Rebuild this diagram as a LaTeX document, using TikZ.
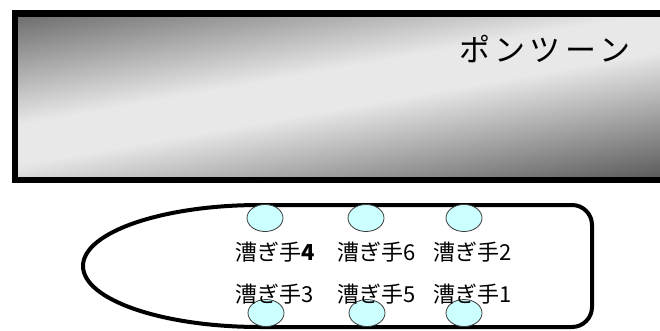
\documentclass[tikz,border=0pt]{standalone}
\usepackage{fontspec}
\usetikzlibrary{shapes.geometric}
\newfontfamily\jp{Noto Sans CJK JP}
\definecolor{pdark}{HTML}{5A5A5A}
\definecolor{plight}{HTML}{E8E8E8}
\definecolor{oarfill}{HTML}{CCFFFF}
\definecolor{oarline}{HTML}{3A3A3A}
\pgfdeclareverticalshading{pontshade}{100bp}{color(0bp)=(pdark); color(39.6bp)=(pdark); color(48.6bp)=(plight); color(51.4bp)=(plight); color(60.4bp)=(pdark); color(100bp)=(pdark)}
\tikzset{
  lbl/.style={font=\jp\fontsize{22}{22}\selectfont, inner sep=0pt, anchor=west},
  oar/.style={ellipse, draw=oarline, fill=oarfill, line width=0.8pt, minimum width=36pt, minimum height=27pt, inner sep=0pt},
  hull/.style={draw=black, line width=4pt, fill=white},
}
\begin{document}
\begin{tikzpicture}[x=1pt,y=-1pt]
\clip (0,0) rectangle (660,331);
\fill[white] (0,0) rectangle (660,331);
% pontoon
\begin{scope}
\clip (15,13) rectangle (690,180);
\shade[shading=pontshade, shading angle=10] (-10,-262) rectangle (690,438);
\end{scope}
\draw[line width=6.5pt] (15,13.5) rectangle (690,180);
\node[font=\jp\fontsize{31}{31}\selectfont\addfontfeature{LetterSpace=14}, inner sep=0pt, anchor=west] (pont) at (459,49) {ポンツーン};
% boat
\draw[hull] (260,205) .. controls (162.2,205) and (83,232.3) .. (83,266)
  .. controls (83,299.7) and (162.2,327) .. (260,327)
  [rounded corners=20pt] -- (592,327) -- (592,205) -- (420,205) [sharp corners] -- cycle;
% oars
\node[oar] (o4) at (265,218) {};
\node[oar] (o6) at (366,218) {};
\node[oar] (o2) at (464,218) {};
\node[oar] (o3) at (266,313) {};
\node[oar] (o5) at (367,313) {};
\node[oar] (o1) at (464,313) {};
% rowers
\node[lbl] (r4) at (235,252) {漕ぎ手\textbf{4}};
\node[lbl] (r6) at (337,252) {漕ぎ手6};
\node[lbl] (r2) at (433,252) {漕ぎ手2};
\node[lbl] (r3) at (235,294) {漕ぎ手3};
\node[lbl] (r5) at (337,294) {漕ぎ手5};
\node[lbl] (r1) at (433,294) {漕ぎ手1};
\end{tikzpicture}
\end{document}
